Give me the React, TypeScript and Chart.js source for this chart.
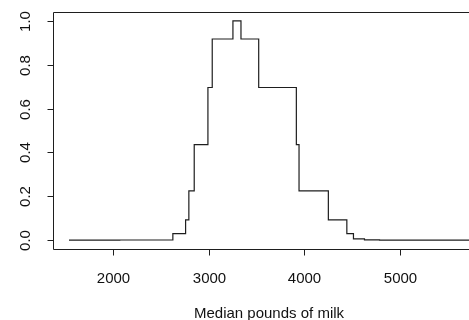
import React, { useEffect, useRef } from "react";
import { Chart, registerables } from "chart.js";

Chart.register(...registerables);

// Step edges (pounds of milk) and the height of each step between consecutive edges
const stepEdges = [1543, 2073, 2627, 2760, 2794, 2850, 2993, 3038, 3254, 3338, 3523, 3916, 3944, 4250, 4443, 4512, 4627, 4784, 5718];
const stepHeights = [0, 0.001, 0.03, 0.093, 0.225, 0.436, 0.696, 0.917, 1.0, 0.917, 0.696, 0.436, 0.225, 0.093, 0.03, 0.006, 0.002, 0];
const xTicks = [2000, 3000, 4000, 5000];
const yTicks = [0, 0.2, 0.4, 0.6, 0.8, 1.0];
const yTickLabels = ["0.0", "0.2", "0.4", "0.6", "0.8", "1.0"];
const xTitle = "Median pounds of milk";

const X_MIN = 1376;
const X_MAX = 5885;
const Y_MIN = -0.04;
const Y_MAX = 1.04;

const FONT = '15px "Liberation Sans", Arial, Helvetica, sans-serif';
const INK = "#1e1e1e";

const rBasePlugin = {
  id: "rBase",
  afterDraw(chart: any) {
    const { ctx, chartArea } = chart;
    const xs = chart.scales.x;
    const ys = chart.scales.y;
    const L = Math.round(chartArea.left) + 0.5;
    const T = Math.round(chartArea.top) + 0.5;
    const R = Math.round(chartArea.right) + 0.5;
    const B = Math.round(chartArea.bottom) + 0.5;
    ctx.save();
    ctx.strokeStyle = INK;
    ctx.lineWidth = 1;
    ctx.beginPath();
    ctx.rect(L, T, R - L, B - T);
    ctx.stroke();

    ctx.fillStyle = "#111";
    ctx.font = FONT;
    // x ticks
    ctx.textAlign = "center";
    ctx.textBaseline = "alphabetic";
    xTicks.forEach((v) => {
      const px = Math.round(xs.getPixelForValue(v)) + 0.5;
      ctx.beginPath();
      ctx.moveTo(px, B);
      ctx.lineTo(px, B + 6);
      ctx.stroke();
      ctx.fillText(String(v), px, 282.5);
    });
    // y ticks
    yTicks.forEach((v, i) => {
      const py = Math.round(ys.getPixelForValue(v)) + 0.5;
      ctx.beginPath();
      ctx.moveTo(L, py);
      ctx.lineTo(L - 6, py);
      ctx.stroke();
      ctx.save();
      ctx.translate(30, py);
      ctx.rotate(-Math.PI / 2);
      ctx.textAlign = "center";
      ctx.textBaseline = "alphabetic";
      ctx.fillText(yTickLabels[i], 0, 0);
      ctx.restore();
    });
    // axis title
    ctx.textAlign = "center";
    ctx.fillText(xTitle, (chartArea.left + chartArea.right) / 2, 318);
    ctx.restore();
  },
};

export default function App() {
  const ref = useRef<HTMLCanvasElement | null>(null);
  useEffect(() => {
    const canvas = ref.current;
    if (!canvas) return;
    const points = stepHeights.map((h, i) => ({ x: stepEdges[i], y: h }));
    points.push({ x: stepEdges[stepEdges.length - 1], y: stepHeights[stepHeights.length - 1] });
    const chart = new Chart(canvas, {
      type: "line",
      data: {
        datasets: [
          {
            data: points,
            stepped: "before",
            borderColor: INK,
            borderWidth: 1.2,
            pointRadius: 0,
            fill: false,
            tension: 0,
          },
        ],
      },
      options: {
        animation: false,
        responsive: false,
        devicePixelRatio: 1,
        layout: { padding: { left: 53, top: 12, right: 15, bottom: 71 } },
        plugins: { legend: { display: false }, tooltip: { enabled: false } },
        scales: {
          x: { type: "linear", min: X_MIN, max: X_MAX, display: false },
          y: { type: "linear", min: Y_MIN, max: Y_MAX, display: false },
        },
      },
      plugins: [rBasePlugin],
    });
    return () => chart.destroy();
  }, []);
  return (
    <div
      style={{
        position: "fixed",
        left: 0,
        top: 0,
        width: 469,
        height: 320,
        overflow: "hidden",
        background: "#fff",
      }}
    >
      <canvas ref={ref} width={500} height={320} style={{ width: 500, height: 320, display: "block" }} />
    </div>
  );
}
